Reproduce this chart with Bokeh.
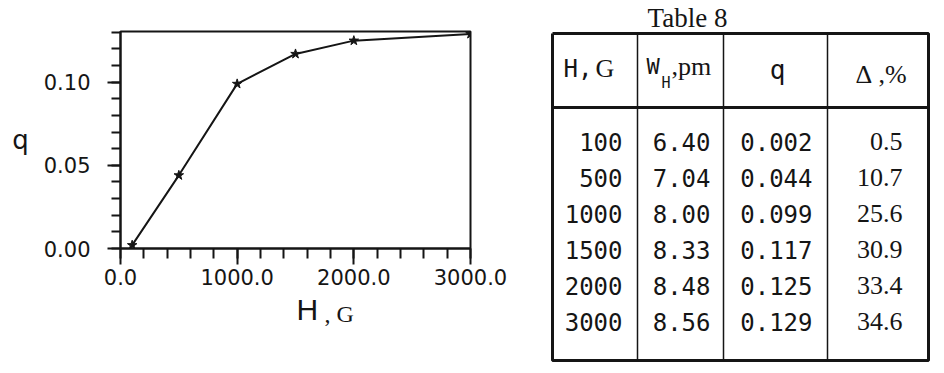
from bokeh.plotting import figure
from bokeh.models import Range1d, SingleIntervalTicker, NumeralTickFormatter
from bokeh.layouts import row, column
from bokeh.core.properties import value
from bokeh.embed import file_html
from bokeh.resources import INLINE

# ---- data ----
H = [100, 500, 1000, 1500, 2000, 3000]
W_H = [6.40, 7.04, 8.00, 8.33, 8.48, 8.56]
q = [0.002, 0.044, 0.099, 0.117, 0.125, 0.129]
delta = [0.5, 10.7, 25.6, 30.9, 33.4, 34.6]
table_title = "Table 8"
x_label_main = "H"
x_label_unit = ", G"
y_label = "q"

INK = "#151515"

# ---- chart ----
p = figure(width=540, height=292, output_backend="svg", toolbar_location=None,
           x_range=Range1d(0, 3000), y_range=Range1d(0, 0.1305),
           min_border_left=120, min_border_right=70, min_border_top=31,
           min_border_bottom=44, background_fill_color="white",
           border_fill_color="white")
p.frame_align = False
p.grid.visible = False
p.outline_line_color = INK
p.outline_line_width = 2

p.xaxis.ticker = SingleIntervalTicker(interval=1000, num_minor_ticks=5)
p.yaxis.ticker = SingleIntervalTicker(interval=0.05, num_minor_ticks=5)
p.xaxis.formatter = NumeralTickFormatter(format="0.0")
p.yaxis.formatter = NumeralTickFormatter(format="0.00")

for ax in (p.xaxis[0], p.yaxis[0]):
    ax.axis_line_width = 2
    ax.axis_line_color = INK
    ax.major_tick_line_color = INK
    ax.minor_tick_line_color = INK
    ax.major_tick_line_width = 2
    ax.minor_tick_line_width = 2
    ax.major_tick_in = 0
    ax.minor_tick_in = 0
    ax.major_label_text_font = "DejaVu Sans"
    ax.major_label_text_font_size = "21px"
    ax.major_label_text_color = INK

p.xaxis.major_tick_out = 16
p.xaxis.minor_tick_out = 10
p.xaxis.major_label_standoff = 4
p.yaxis.major_tick_out = 13
p.yaxis.minor_tick_out = 9
p.yaxis.major_label_standoff = 17

p.yaxis.axis_label = y_label
p.yaxis.axis_label_orientation = "horizontal"
p.yaxis.axis_label_text_font = "DejaVu Sans"
p.yaxis.axis_label_text_font_style = "normal"
p.yaxis.axis_label_text_font_size = "26px"
p.yaxis.axis_label_text_color = INK
p.yaxis.axis_label_standoff = 12

p.line(H, q, line_color=INK, line_width=2)
p.scatter(H, q, marker="star", size=10, fill_color=INK, line_color=INK)

# ---- x-axis title strip (mixed fonts) ----
lab = figure(width=540, height=80, output_backend="svg", toolbar_location=None,
             x_range=Range1d(0, 540), y_range=Range1d(80, 0),
             min_border=0, x_axis_type=None, y_axis_type=None,
             background_fill_color="white", border_fill_color="white")
lab.frame_align = False
lab.outline_line_color = None
lab.grid.visible = False
lab.text(x=[296], y=[17], text=[x_label_main], text_font=value("Liberation Sans"),
         text_font_size="30px", text_align="left", text_baseline="middle",
         text_color=INK)
lab.text(x=[324], y=[21], text=[x_label_unit], text_font=value("Liberation Serif"),
         text_font_size="24px", text_align="left", text_baseline="middle",
         text_color=INK)

# ---- table ----
t = figure(width=404, height=372, output_backend="svg", toolbar_location=None,
           x_range=Range1d(0, 404), y_range=Range1d(372, 0),
           min_border=0, x_axis_type=None, y_axis_type=None,
           background_fill_color="white", border_fill_color="white")
t.frame_align = False
t.outline_line_color = None
t.grid.visible = False

# frame
t.line([12, 388, 388, 12, 12], [33, 33, 360, 360, 33], line_color=INK, line_width=3)
t.segment(x0=[12], y0=[107], x1=[388], y1=[107], line_color=INK, line_width=3)
t.segment(x0=[97, 183, 287], y0=[33, 33, 33], x1=[97, 183, 287], y1=[360, 360, 360],
          line_color=INK, line_width=1.5)

# title
t.text(x=[147], y=[17], text=[table_title], text_font=value("Liberation Serif"),
       text_font_size="27px", text_align="center", text_baseline="middle",
       text_color=INK)

# header
def txt(x, y, s, font, size, align="left"):
    t.text(x=[x], y=[y], text=[s], text_font=value(font), text_font_size=size,
           text_align=align, text_baseline="middle", text_color=INK)

txt(23, 68, "H,", "DejaVu Sans Mono", "24px")
txt(55, 68, "G", "Liberation Serif", "26px")
txt(106, 66, "W", "DejaVu Sans Mono", "22px")
txt(121, 82, "H", "DejaVu Sans Mono", "15px")
txt(131, 66, ",pm", "Liberation Serif", "26px")
txt(237, 69, "q", "DejaVu Sans Mono", "26px", "center")
txt(315, 74, "\u0394", "Liberation Serif", "26px")
txt(338, 74, ",%", "Liberation Serif", "26px")

# rows
ys = [141 + 36 * i for i in range(len(H))]
t.text(x=[82] * len(H), y=ys, text=[str(h) for h in H],
       text_font=value("DejaVu Sans Mono"), text_font_size="24px",
       text_align="right", text_baseline="middle", text_color=INK)
t.text(x=[170] * len(H), y=ys, text=[f"{w:.2f}" for w in W_H],
       text_font=value("DejaVu Sans Mono"), text_font_size="24px",
       text_align="right", text_baseline="middle", text_color=INK)
t.text(x=[272] * len(H), y=ys, text=[f"{v:.3f}" for v in q],
       text_font=value("DejaVu Sans Mono"), text_font_size="24px",
       text_align="right", text_baseline="middle", text_color=INK)
t.text(x=[362] * len(H), y=ys, text=[f"{d:.1f}" for d in delta],
       text_font=value("Liberation Serif"), text_font_size="26px",
       text_align="right", text_baseline="middle", text_color=INK)

layout = row(column(p, lab), t)
open("out.html", "w").write(file_html(layout, INLINE))
